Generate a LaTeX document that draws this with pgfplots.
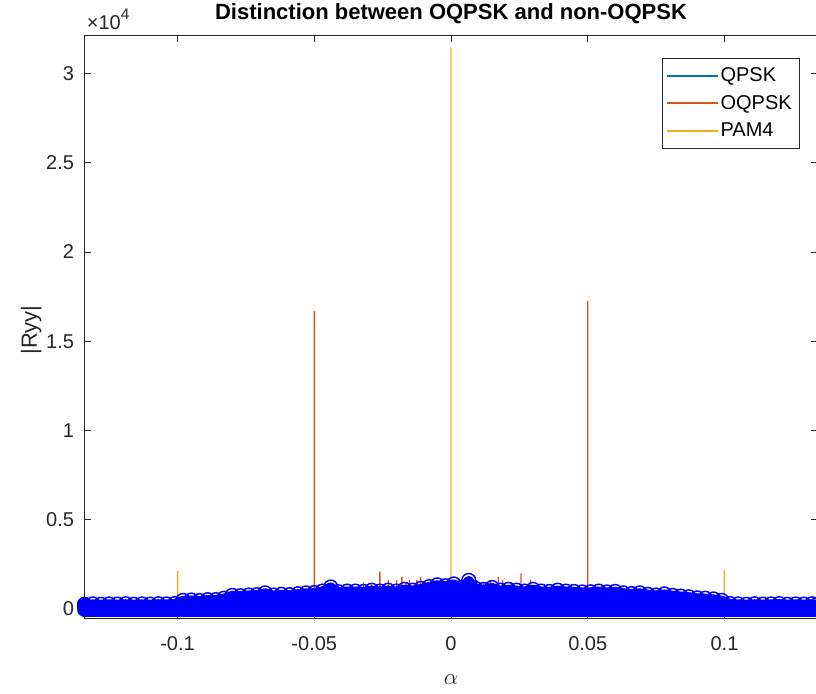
\documentclass[border=0pt]{standalone}
\usepackage{pgfplots}
\pgfplotsset{compat=1.18}
\usepackage{pgfplotstable}
\usepackage{fontspec}
\setmainfont{Liberation Sans}
\definecolor{mblue}{RGB}{0,114,189}
\definecolor{oqorange}{RGB}{217,83,25}
\definecolor{myellow}{RGB}{237,177,32}
\definecolor{axgray}{RGB}{38,38,38}
\definecolor{bb}{RGB}{0,0,255}

\pgfplotstableread{
a v
-0.134 250
-0.131 280
-0.128 260
-0.125 280
-0.122 270
-0.119 290
-0.116 260
-0.113 280
-0.110 270
-0.107 290
-0.104 280
-0.101 300
-0.098 480
-0.095 500
-0.092 470
-0.089 520
-0.086 520
-0.083 600
-0.080 760
-0.077 740
-0.074 780
-0.071 800
-0.068 900
-0.065 780
-0.062 820
-0.059 800
-0.056 850
-0.053 900
-0.050 920
-0.047 1000
-0.044 1230
-0.041 960
-0.038 1000
-0.035 1000
-0.032 980
-0.029 1050
-0.026 1000
-0.023 1050
-0.020 1000
-0.017 1100
-0.014 1050
-0.011 1150
-0.008 1250
-0.005 1350
-0.002 1300
0.001 1400
0.004 1200
0.0065 1600
0.009 1150
0.012 1100
0.015 1200
0.018 1050
0.021 1100
0.024 1050
0.027 1000
0.030 1100
0.033 1000
0.036 980
0.039 1050
0.042 1000
0.045 980
0.048 950
0.051 960
0.054 1000
0.057 950
0.060 980
0.063 900
0.066 860
0.069 900
0.072 820
0.075 780
0.078 840
0.081 760
0.084 720
0.087 680
0.090 620
0.093 600
0.096 560
0.099 480
0.102 300
0.105 280
0.108 260
0.111 290
0.114 270
0.117 280
0.120 300
0.123 260
0.126 280
0.129 270
0.132 290
0.134 260
}\bandtable

\pgfplotstableread{
a v
0.134 0
-0.134 0
-0.134 250
}\bandclose

\begin{document}
\begin{tikzpicture}
\begin{axis}[
 name=ax, at={(0,0)}, anchor=south west,
 scale only axis, width=550.5pt, height=437.25pt,
 xmin=-0.1342, xmax=0.1342, ymin=-500, ymax=32150,
 clip=false,
 axis line style={axgray, line width=0.6pt},
 tick style={axgray, line width=0.6pt},
 major tick length=5.5pt,
 tick align=inside,
 xtick={-0.1,-0.05,0,0.05,0.1},
 xticklabels={-0.1,-0.05,0,0.05,0.1},
 ytick={0,5000,10000,15000,20000,25000,30000},
 yticklabels={0,0.5,1,1.5,2,2.5,3},
 scaled y ticks=false, scaled x ticks=false,
 ticklabel style={font=\fontsize{15}{18}\selectfont, text=axgray},
 yticklabel style={xshift=-4pt},
 xticklabel style={yshift=-10.5pt},
 every axis title shift=0pt,
 title={Distinction between OQPSK and non-OQPSK},
 title style={font=\fontsize{16.5}{20}\selectfont\bfseries, at={(axis description cs:0.5,1.036)}, anchor=center},
 ylabel={|Ryy|},
 ylabel style={font=\fontsize{16.5}{20}\selectfont, text=axgray, at={(axis description cs:-0.072,0.494)}, anchor=center},
 xlabel={$\alpha$},
 xlabel style={font=\fontsize{17}{20}\selectfont, text=axgray, at={(axis description cs:0.5,-0.106)}, anchor=center},
 legend style={at={(rel axis cs:0.9755,0.9605)}, anchor=north east, draw=axgray, line width=0.5pt,
   font=\fontsize{15}{18}\selectfont, text=black, row sep=4.8pt, inner xsep=4pt, inner ysep=5pt},
 legend cell align=left,
]
% QPSK (hidden under the circles)
\addplot[ybar, bar shift=0pt, bar width=1.1pt, fill=mblue, draw=none,
  legend image code/.code={\fill[mblue] (0pt,-0.75pt) rectangle (38pt,0.75pt);}] coordinates {
(-0.12,300) (-0.06,600) (0,900) (0.06,600) (0.12,300)};
\addlegendentry{QPSK}
% OQPSK
\addplot[ybar, bar shift=0pt, bar width=1.1pt, fill=oqorange, draw=none,
  legend image code/.code={\fill[oqorange] (0pt,-0.75pt) rectangle (38pt,0.75pt);}] coordinates {
(-0.05,16700) (0.05,17250)
(-0.0320,1500) (-0.0290,1450) (-0.0260,2100) (-0.0229,1620) (-0.0199,1620) (-0.0180,1810)
(-0.0165,1500) (-0.0152,1620) (-0.0125,1620) (-0.0111,1810) (-0.0060,1450)
(0.0094,1620) (0.0120,1500) (0.0143,1620) (0.0173,1810) (0.0189,1620) (0.0220,1500)
(0.0256,2000) (0.0291,1620)};
\addlegendentry{OQPSK}
% PAM4
\addplot[ybar, bar shift=0pt, bar width=1.1pt, fill=myellow, draw=none,
  legend image code/.code={\fill[myellow] (0pt,-0.75pt) rectangle (38pt,0.75pt);}] coordinates {
(-0.1,2150) (0,31450) (0.1,2180)};
\addlegendentry{PAM4}
% dense band of circles
\addplot[draw=bb, fill=bb, line width=7pt, line join=round, line cap=round, forget plot]
  table[x=a, y=v] {\bandtable};
\addplot[draw=bb, fill=bb, line width=11.6pt, line join=round, line cap=round, forget plot]
  table[x=a, y=v] {\bandclose};
\addplot[only marks, mark=o, mark size=5.25pt, bb, line width=1.1pt, forget plot]
  table[x=a, y=v] {\bandtable};
\node[anchor=south west, inner sep=0pt, text=axgray, font=\fontsize{15}{18}\selectfont]
  at (rel axis cs:0,1) [xshift=2pt, yshift=4pt] {×10\raisebox{0.5em}{\fontsize{11.5}{12}\selectfont 4}};
\end{axis}
\pgfresetboundingbox
\useasboundingbox (-63pt,-56.25pt) rectangle (549pt,463.5pt);
\end{tikzpicture}
\end{document}
